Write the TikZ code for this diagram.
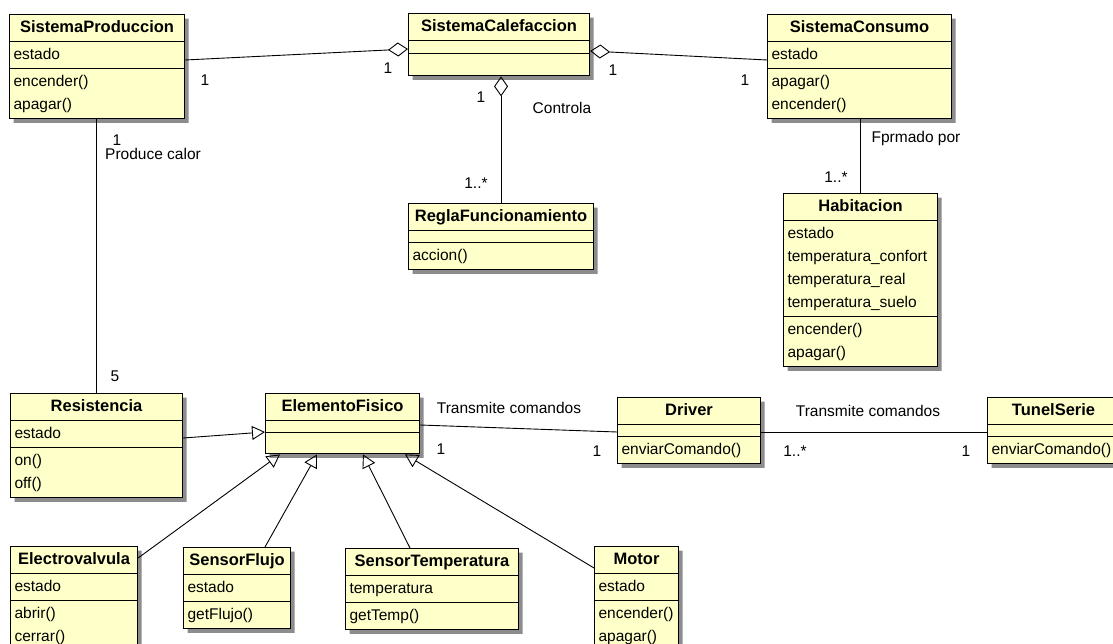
\documentclass[tikz,border=0pt]{standalone}
\usepackage{fontspec}
\setmainfont{Liberation Sans}
\usetikzlibrary{shapes.multipart,shadows,arrows.meta}

\definecolor{classfill}{RGB}{255,255,202}
\newcommand\umlfont{\fontsize{15.5}{23}\selectfont}
\newcommand\ctitle[1]{\makebox[\linewidth][c]{\fontsize{16.5}{23}\selectfont\bfseries\strut#1}}
\newcommand\cempty[1]{\rule{0pt}{#1}}

\begin{document}
\begin{tikzpicture}[x=1pt,y=-1pt,
    umlclass/.style={rectangle split, rectangle split parts=3, draw, line width=1.1pt,
      fill=classfill, anchor=north west, inner xsep=4pt, inner ysep=1.5pt,
      font=\umlfont, align=left,
      drop shadow={shadow xshift=4pt, shadow yshift=-4pt, fill=black!45, opacity=1}},
    lbl/.style={font=\umlfont, inner sep=0pt},
    assoc/.style={line width=0.9pt},
    agg/.style={assoc, -{Diamond[open,length=20pt,width=14pt]}},
    gen/.style={assoc, -{Triangle[open,length=13pt,width=14pt]}}]
    \useasboundingbox (0,0) rectangle (1113,644);

    % clases de arriba
    \node[umlclass, text width=167pt] (prod) at (9,14) {\ctitle{SistemaProduccion}
        \nodepart{two}\strut estado
        \nodepart{three}\strut encender()\\\strut apagar()};
    \node[umlclass, text width=173pt] (cal) at (408,13) {\ctitle{SistemaCalefaccion}
        \nodepart{two}\cempty{9pt}
        \nodepart{three}\cempty{18pt}};
    \node[umlclass, text width=176pt] (cons) at (767,14) {\ctitle{SistemaConsumo}
        \nodepart{two}\strut estado
        \nodepart{three}\strut apagar()\\\strut encender()};
    \node[umlclass, text width=177pt] (regla) at (408,203) {\ctitle{ReglaFuncionamiento}
        \nodepart{two}\cempty{8pt}
        \nodepart{three}\strut accion()};
    \node[umlclass, text width=146pt] (hab) at (783,193) {\ctitle{Habitacion}
        \nodepart{two}\strut estado\\\strut temperatura\_confort\\\strut temperatura\_real\\\strut temperatura\_suelo
        \nodepart{three}\strut encender()\\\strut apagar()};

    % elementos fisicos
    \node[umlclass, text width=164pt] (res) at (10,393) {\ctitle{Resistencia}
        \nodepart{two}\strut estado
        \nodepart{three}\strut on()\\\strut off()};
    \node[umlclass, text width=146pt] (elem) at (265,393) {\ctitle{ElementoFisico}
        \nodepart{two}\cempty{8pt}
        \nodepart{three}\cempty{17pt}};
    \node[umlclass, text width=135pt] (driver) at (617,397) {\ctitle{Driver}
        \nodepart{two}\cempty{8pt}
        \nodepart{three}\strut enviarComando()};
    \node[umlclass, text width=124pt] (tunel) at (987,397) {\ctitle{TunelSerie}
        \nodepart{two}\cempty{8pt}
        \nodepart{three}\strut enviarComando()};
    \node[umlclass, text width=119pt] (electro) at (10,546) {\ctitle{Electrovalvula}
        \nodepart{two}\strut estado
        \nodepart{three}\strut abrir()\\\strut cerrar()};
    \node[umlclass, text width=99pt] (flujo) at (183,547) {\ctitle{SensorFlujo}
        \nodepart{two}\strut estado
        \nodepart{three}\strut getFlujo()};
    \node[umlclass, text width=165pt] (temp) at (345,548) {\ctitle{SensorTemperatura}
        \nodepart{two}\strut temperatura
        \nodepart{three}\strut getTemp()};
    \node[umlclass, text width=76pt] (motor) at (594,546) {\ctitle{Motor}
        \nodepart{two}\strut estado
        \nodepart{three}\strut encender()\\\strut apagar()};

    % asociaciones
    \draw[agg] ([yshift=-46pt]prod.north east) -- ([yshift=-36pt]cal.north west);
    \draw[agg] ([yshift=-46pt]cons.north west) -- ([yshift=-38pt]cal.north east);
    \draw[agg] (regla.north) -- (regla.north |- cal.south);
    \draw[assoc] (hab.north) -- (hab.north |- cons.south);
    \draw[assoc] (res.north) -- (res.north |- prod.south);
    \draw[assoc] ([yshift=-32pt]elem.north east) -- ([yshift=-35pt]driver.north west);
    \draw[assoc] ([yshift=-35pt]driver.north east) -- ([yshift=-35pt]tunel.north west);

    % herencia
    \draw[gen] ([yshift=-45pt]res.north east) -- ([yshift=-39pt]elem.north west);
    \draw[gen] ([yshift=-12pt]electro.north east) -- ([xshift=15pt]elem.south west);
    \draw[gen] ([xshift=82pt]flujo.north west) -- ([xshift=52pt]elem.south west);
    \draw[gen] ([xshift=65pt]temp.north west) -- ([xshift=98pt]elem.south west);
    \draw[gen] ([yshift=-22pt]motor.north west) -- ([xshift=140pt]elem.south west);

    % etiquetas
    \node[lbl] (m1) at (205,80) {1};
    \node[lbl] (m2) at (388,68) {1};
    \node[lbl] (m3) at (613,70) {1};
    \node[lbl] (m4) at (745,80) {1};
    \node[lbl] (m5) at (481,97) {1};
    \node[lbl] (controla) at (562,108) {Controla};
    \node[lbl] (m6) at (476,183) {1..*};
    \node[lbl] (formado) at (916,138) {Fprmado por};
    \node[lbl] (m7) at (836,177) {1..*};
    \node[lbl] (m8) at (117,140) {1};
    \node[lbl] (produce) at (153,154) {Produce calor};
    \node[lbl] (m9) at (115,376) {5};
    \node[lbl] (trans1) at (509,408) {Transmite comandos};
    \node[lbl] (m10) at (441,449) {1};
    \node[lbl] (m11) at (597,451) {1};
    \node[lbl] (trans2) at (868,411) {Transmite comandos};
    \node[lbl] (m12) at (795,451) {1..*};
    \node[lbl] (m13) at (966,451) {1};
\end{tikzpicture}
\end{document}
